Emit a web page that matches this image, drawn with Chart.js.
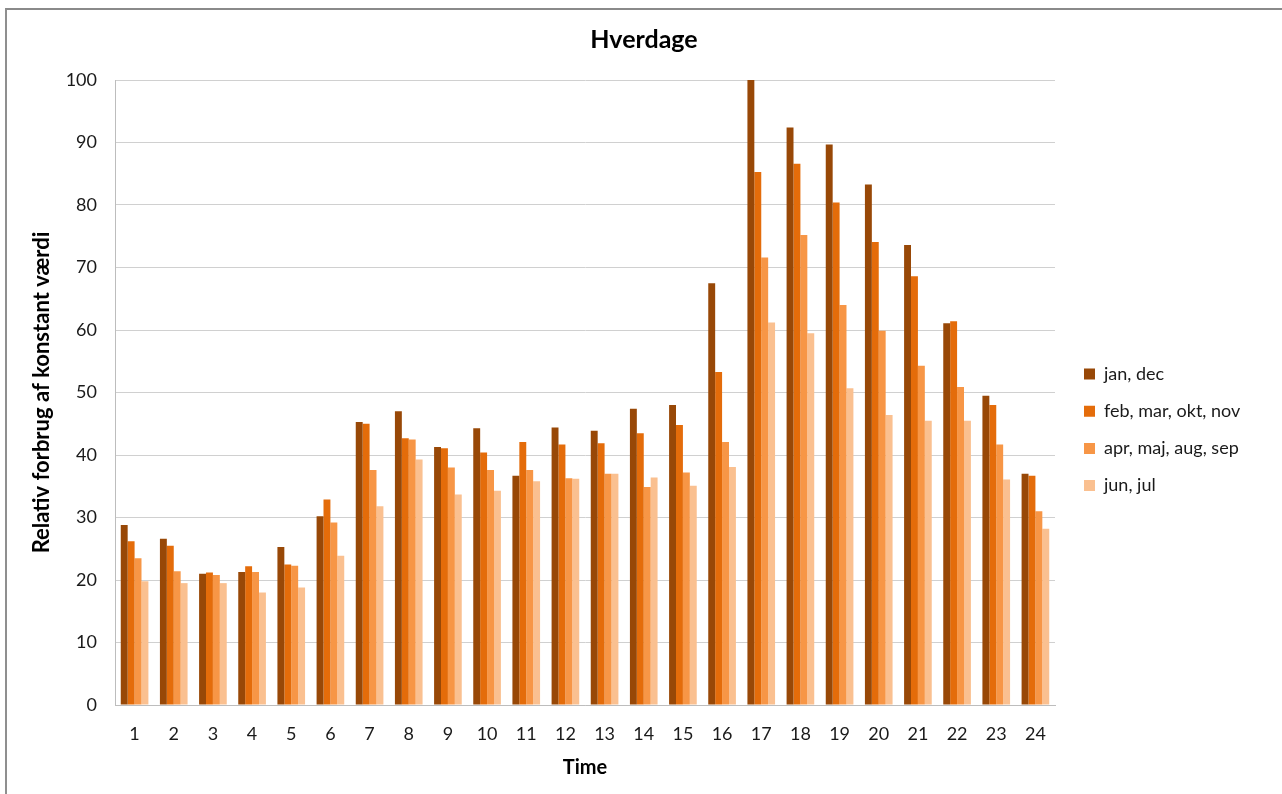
<!DOCTYPE html>
<html><head><meta charset="utf-8">
<script src="https://cdn.jsdelivr.net/npm/chart.js@4"></script>
<style>
html,body{margin:0;padding:0;background:#fff;overflow:hidden}
#wrap{position:relative;width:1282px;height:794px}
#frame{position:absolute;left:5px;top:8px;right:-10px;bottom:-10px;border-top:2px solid #8a8a8a;border-left:2px solid #8f8f8f;pointer-events:none}
canvas{position:absolute;left:0;top:0}
</style></head><body>
<div id="wrap"><canvas id="c" width="1282" height="794"></canvas><div id="frame"></div></div>
<script>
const chartTitle = 'Hverdage';
const xTitle = 'Time';
const yTitle = 'Relativ forbrug af konstant værdi';
const hours = ['1','2','3','4','5','6','7','8','9','10','11','12','13','14','15','16','17','18','19','20','21','22','23','24'];
const seriesNames = ['jan, dec','feb, mar, okt, nov','apr, maj, aug, sep','jun, jul'];
const seriesColors = ['#984807','#E46C0A','#F79646','#FAC090'];
const janDec      = [28.8,26.6,21.0,21.3,25.3,30.2,45.3,47.0,41.3,44.3,36.7,44.4,43.9,47.4,48.0,67.5,100.0,92.4,89.7,83.3,73.6,61.1,49.5,37.0];
const febMarOktNov= [26.2,25.5,21.2,22.2,22.5,32.9,45.0,42.7,41.1,40.4,42.1,41.7,41.9,43.5,44.8,53.3,85.3,86.6,80.4,74.1,68.6,61.4,48.0,36.7];
const aprMajAugSep= [23.5,21.4,20.8,21.3,22.3,29.2,37.6,42.5,38.0,37.6,37.6,36.3,37.0,34.9,37.2,42.1,71.6,75.2,64.0,59.9,54.3,50.9,41.7,31.0];
const junJul      = [19.8,19.5,19.5,18.0,18.8,23.9,31.8,39.3,33.7,34.3,35.8,36.2,37.0,36.4,35.1,38.1,61.2,59.5,50.7,46.4,45.5,45.5,36.1,28.2];
const seriesValues = [janDec, febMarOktNov, aprMajAugSep, junJul];

const FONT = 'Lato';
const PLOT_RIGHT = 1055;
const TITLE_CENTER_X = 644;
const LEGEND_X = 1084, LEGEND_Y = 365;
const legendFontSize = 18, legendBox = 11, legendPad = 37.2 - 18;

function make(){
  const mc = document.createElement('canvas').getContext('2d');
  mc.font = legendFontSize + 'px ' + FONT;
  let maxW = 0;
  seriesNames.forEach(n => { maxW = Math.max(maxW, mc.measureText(n).width); });
  const legendWidth = legendPad + legendBox + legendFontSize/2 + maxW + 10;
  const padRight = Math.max(0, 1282 - PLOT_RIGHT - legendWidth);

  const placeBoxes = {
    id: 'placeBoxes',
    afterLayout(chart){
      const lg = chart.legend;
      if (lg) {
        const w = lg.width, h = lg.height;
        lg.left = LEGEND_X - legendPad; lg.right = lg.left + w;
        lg.top = LEGEND_Y - legendPad; lg.bottom = lg.top + h;
      }
      const tb = chart.titleBlock;
      if (tb) {
        const half = Math.max(tb.width, 400) / 2;
        tb.left = TITLE_CENTER_X - half; tb.right = TITLE_CENTER_X + half; tb.width = 2 * half;
      }
    }
  };

  new Chart(document.getElementById('c'), {
    type: 'bar',
    data: {
      labels: hours,
      datasets: seriesNames.map((n, i) => ({
        label: n, data: seriesValues[i], backgroundColor: seriesColors[i], borderWidth: 0,
        categoryPercentage: 0.706, barPercentage: 1.0
      }))
    },
    options: {
      responsive: false, animation: false, devicePixelRatio: 1,
      layout: { padding: { left: 0, top: 0, bottom: 0, right: padRight } },
      plugins: {
        tooltip: { enabled: false },
        title: { display: true, text: chartTitle, color: '#000',
          font: { family: FONT, size: 25, weight: 'bold' }, padding: { top: 25, bottom: 25 } },
        legend: { display: true, position: 'right', align: 'start',
          labels: { boxWidth: legendBox, boxHeight: legendBox, padding: legendPad, color: '#1a1a1a',
            font: { family: FONT, size: legendFontSize } } }
      },
      scales: {
        x: {
          grid: { display: false, drawTicks: false },
          border: { display: true, color: '#bdbdbd', width: 1 },
          ticks: { color: '#1a1a1a', font: { family: FONT, size: 18 }, padding: 18, maxRotation: 0, autoSkip: false },
          title: { display: true, text: xTitle, color: '#000', font: { family: FONT, size: 20, weight: 'bold' }, padding: { top: 0, bottom: 14 } },
          afterFit(s){ s.height = 89; }
        },
        y: {
          min: 0, max: 100,
          grid: { color: '#d0d0d0', lineWidth: 1, drawTicks: false },
          border: { display: true, color: '#bdbdbd', width: 1 },
          ticks: { stepSize: 10, color: '#1a1a1a', font: { family: FONT, size: 18 }, padding: 18 },
          title: { display: true, text: yTitle, color: '#000', font: { family: FONT, size: 22, weight: 'bold' }, padding: { top: 28.8, bottom: 0 } },
          afterFit(s){ s.width = 115; }
        }
      }
    },
    plugins: [placeBoxes]
  });
}
if (document.fonts && document.fonts.load) {
  Promise.all([document.fonts.load('18px Lato'), document.fonts.load('bold 18px Lato')]).then(make, make);
} else { make(); }
</script>
</body></html>
